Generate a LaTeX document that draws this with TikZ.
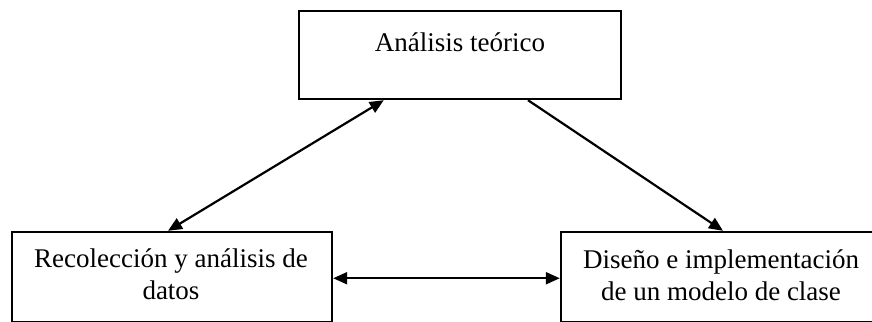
\documentclass[tikz,border=0pt]{standalone}
\usepackage{fontspec}
\setmainfont{Liberation Serif}
\usetikzlibrary{arrows.meta}
\tikzset{
  box/.style={draw=black, line width=2.4pt, rectangle, inner sep=0pt, fill=white},
  lbl/.style={font=\fontsize{27}{32}\selectfont, inner sep=0pt, align=center, anchor=base},
  link/.style={draw=black, line width=2.2pt, -{Triangle[length=14pt,width=12pt]}},
  dlink/.style={draw=black, line width=2.2pt, {Triangle[length=14pt,width=12pt]}-{Triangle[length=14pt,width=12pt]}}
}
\begin{document}
\begin{tikzpicture}[x=1pt,y=-1pt]
\useasboundingbox (0,0) rectangle (872,321);
\clip (0,0) rectangle (872,321);
\fill[white] (0,0) rectangle (872,321);
\node[box, minimum width=322pt, minimum height=88pt] (top) at (460,55) {};
\node[box, minimum width=320pt, minimum height=90.5pt] (bl) at (172,277.25) {};
\node[box, minimum width=320pt, minimum height=90.5pt] (br) at (721,277.25) {};
\node[lbl] (ttop) at (460,52) {Análisis teórico};
\node[lbl] (tbl) at (171,299) {Recolección y análisis de\\datos};
\node[lbl] (tbr) at (721,300) {Diseño e implementación\\de un modelo de clase};
\draw[dlink] ([xshift=86pt]top.south west) -- ([xshift=-4pt]bl.north);
\draw[link] ([xshift=68pt]top.south) -- ([xshift=2pt]br.north);
\draw[dlink] ([yshift=-1pt]bl.east) -- ([yshift=-1pt]br.west);
\end{tikzpicture}
\end{document}
